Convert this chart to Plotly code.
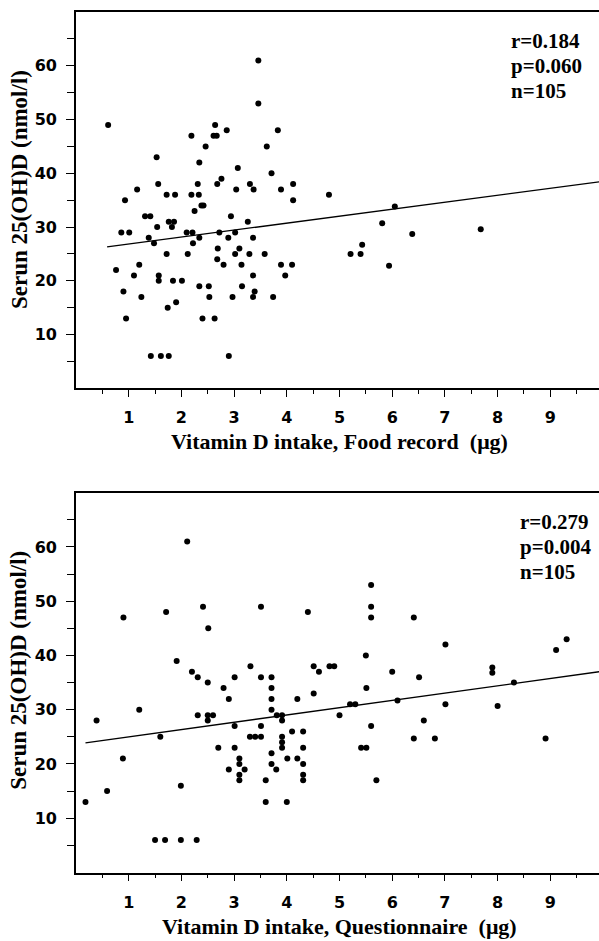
import plotly.graph_objects as go

# ---------------- data ----------------
food_x = [0.61, 3.46, 3.46, 2.64, 2.19, 2.61, 2.67, 2.86, 3.83, 2.46, 3.62, 1.53, 2.34, 3.07, 3.71, 2.76,
          1.56, 2.31, 2.68, 3.30, 4.12,
          1.16, 3.04, 3.37, 3.89,
          1.72, 1.88, 2.19, 2.33, 4.80,
          0.93, 4.12,
          2.38, 2.42, 6.05,
          2.25,
          1.31, 1.41, 2.94,
          1.76, 1.86, 3.26, 5.81,
          1.54, 1.82, 7.68,
          0.86, 1.01, 2.10, 2.21, 2.72, 3.02, 6.38,
          1.38, 2.34, 2.89, 3.36,
          1.48, 2.22, 5.43,
          2.69, 3.10,
          1.72, 2.12, 3.02, 3.29, 3.58, 5.21, 5.40,
          2.68,
          1.20, 2.80, 3.14, 3.89, 4.10, 5.94,
          0.76,
          1.10, 1.57, 3.36, 3.97,
          1.57, 1.84, 2.01,
          2.34, 2.52, 3.15,
          0.90, 3.39,
          1.24, 2.53, 2.97, 3.36, 3.74,
          1.90,
          1.74,
          0.95, 2.40, 2.63,
          1.42, 1.61, 1.76, 2.90]
food_y = [49, 61, 53, 49, 47, 47, 47, 48, 48, 45, 45, 43, 42, 41, 40, 39,
          38, 38, 38, 38, 38,
          37, 37, 37, 37,
          36, 36, 36, 36, 36,
          35, 35,
          34, 34, 33.8,
          33,
          32, 32, 32,
          31, 31, 31, 30.7,
          30, 30, 29.6,
          29, 29, 29, 29, 29, 29, 28.7,
          28, 28, 28, 28,
          27, 27, 26.7,
          26, 26,
          25, 25, 25, 25, 25, 25, 25,
          24,
          23, 23, 23, 23, 23, 22.8,
          22,
          21, 21, 21, 21,
          20, 20, 20,
          19, 19, 19,
          18, 18,
          17, 17, 17, 17, 17,
          16,
          15,
          13, 13, 13,
          6, 6, 6, 6]

quest_x = [2.11, 5.60, 0.90, 1.71, 2.41, 3.51, 4.40, 5.60, 5.60, 6.41, 2.51, 7.01, 9.31, 9.11, 1.91, 5.50,
           3.31, 4.51, 4.81, 4.90, 7.90, 7.90,
           2.20, 4.61, 6.00,
           2.31, 3.01, 3.51, 3.71, 6.51,
           2.50, 8.31,
           2.80, 3.71, 5.51,
           4.51,
           2.90, 4.20, 3.71, 6.10,
           1.20, 3.71,
           5.20, 5.30, 7.01, 8.00,
           0.39,
           2.31, 2.50, 2.60, 2.50, 3.81, 3.91, 3.91, 5.00, 6.60,
           3.01, 3.51, 5.60,
           1.60, 3.30, 3.40, 3.51, 4.10, 4.31, 3.91, 3.91, 6.41, 6.81, 8.91,
           2.70, 3.01, 3.91, 4.31, 5.41, 5.51,
           0.89, 3.10, 4.01, 4.20, 3.71,
           3.10, 3.71, 4.31,
           2.90, 3.20, 3.80,
           3.10, 4.31,
           3.10, 3.60, 4.31, 5.70,
           1.99, 0.59, 0.18, 3.60, 4.00,
           1.50, 1.69, 1.99, 2.29]
quest_y = [61, 53, 47, 48, 49, 49, 48, 49, 47, 47, 45, 42, 43, 41, 39, 40,
           38, 38, 38, 38, 37.8, 36.8,
           37, 37, 37,
           36, 36, 36, 36, 36,
           35, 35,
           34, 34, 34,
           33,
           32, 32, 32, 31.7,
           30, 30,
           31, 31, 31, 30.7,
           28,
           29, 29, 29, 28, 29, 29, 28, 29, 28,
           27, 27, 27,
           25, 25, 25, 25, 26, 26, 25, 24, 24.7, 24.7, 24.7,
           23, 23, 23, 23, 23, 23,
           21, 21, 21, 21, 22,
           20, 20, 20,
           19, 19, 19,
           18, 18,
           17, 17, 17, 17,
           16, 15, 13, 13, 13,
           6, 6, 6, 6]

# regression lines (intercept, slope, start x)
food_fit = (25.54, 1.296, 0.59)
quest_fit = (23.66, 1.344, 0.18)
fit_end_x = 10.0

food_stats = ["r=0.184", "p=0.060", "n=105"]
quest_stats = ["r=0.279", "p=0.004", "n=105"]

x_major = [1, 2, 3, 4, 5, 6, 7, 8, 9]
x_minor = [0.5, 1.5, 2.5, 3.5, 4.5, 5.5, 6.5, 7.5, 8.5, 9.5]
y_major = [10, 20, 30, 40, 50, 60]
y_minor = [5, 15, 25, 35, 45, 55, 65]

y_title = "Serun 25(OH)D (nmol/l)"
x_title_food = "Vitamin D intake, Food record \u00a0(\u03bcg)"
x_title_quest = "Vitamin D intake, Questionnaire \u00a0(\u03bcg)"

# ---------------- layout geometry ----------------
W, H = 599, 941
def px_y(p):
    return 1 - p / H

x_dom = [76 / W, 1.0]
x_rng = [0, (W - 76) / 52.7]
top_dom = [px_y(388.3), px_y(12)]
bot_dom = [px_y(872.5), px_y(492.7)]

fig = go.Figure()

def add_panel(xs, ys, fit, xa, ya):
    fig.add_trace(go.Scatter(x=xs, y=ys, mode="markers",
                             marker=dict(color="black", size=6),
                             xaxis=xa, yaxis=ya, showlegend=False, hoverinfo="skip"))
    b0, b1, xs0 = fit
    lx = [xs0, fit_end_x]
    ly = [b0 + b1 * v for v in lx]
    fig.add_trace(go.Scatter(x=lx, y=ly, mode="lines",
                             line=dict(color="black", width=1.3),
                             xaxis=xa, yaxis=ya, showlegend=False, hoverinfo="skip"))

add_panel(food_x, food_y, food_fit, "x", "y")
add_panel(quest_x, quest_y, quest_fit, "x2", "y2")

tickfont = dict(family="DejaVu Sans", size=16, color="black", weight="bold")

def xaxis(anchor):
    return dict(domain=x_dom, range=x_rng, anchor=anchor,
                showline=True, linecolor="black", linewidth=1.6, mirror=True,
                showgrid=False, zeroline=False,
                tickmode="array", tickvals=x_major, ticktext=[str(v) for v in x_major],
                ticks="outside", ticklen=7, tickwidth=1.2, tickcolor="black",
                ticklabelstandoff=7,
                minor=dict(tickmode="array", tickvals=x_minor, ticks="outside",
                           ticklen=4, tickwidth=1.0, tickcolor="black"),
                tickfont=tickfont, fixedrange=True)

def yaxis(dom, anchor):
    return dict(domain=dom, range=[0, 70], anchor=anchor,
                showline=True, linecolor="black", linewidth=1.6, mirror=False,
                showgrid=False, zeroline=False,
                tickmode="array", tickvals=y_major, ticktext=[str(v) for v in y_major],
                ticks="outside", ticklen=8, tickwidth=1.2, tickcolor="black",
                ticklabelstandoff=6,
                minor=dict(tickmode="array", tickvals=y_minor, ticks="outside",
                           ticklen=7, tickwidth=1.0, tickcolor="black"),
                tickfont=tickfont, fixedrange=True)

serif = "Liberation Serif"
annotations = []

def add_texts(top_px, stats, stats_x, xtitle, xtitle_y):
    annotations.append(dict(text="<b>" + y_title + "</b>", xref="paper", yref="paper",
                            x=19 / W, y=px_y(top_px + 178), xanchor="center", yanchor="middle",
                            textangle=-90, showarrow=False,
                            font=dict(family=serif, size=23, color="black")))
    annotations.append(dict(text="<b>" + xtitle + "</b>", xref="paper", yref="paper",
                            x=339 / W, y=px_y(xtitle_y), xanchor="center", yanchor="middle",
                            showarrow=False, font=dict(family=serif, size=22, color="black")))
    for i, s in enumerate(stats):
        annotations.append(dict(text="<b>" + s + "</b>", xref="paper", yref="paper",
                                x=stats_x / W, y=px_y(top_px + 29 + 25 * i),
                                xanchor="left", yanchor="middle", showarrow=False,
                                font=dict(family=serif, size=21, color="black")))

add_texts(12, food_stats, 509, x_title_food, 441)
add_texts(492.7, quest_stats, 518, x_title_quest, 926)

fig.update_layout(
    width=W, height=H,
    margin=dict(l=0, r=0, t=0, b=0),
    paper_bgcolor="white", plot_bgcolor="white",
    xaxis=xaxis("y"), yaxis=yaxis(top_dom, "x"),
    xaxis2=xaxis("y2"), yaxis2=yaxis(bot_dom, "x2"),
    annotations=annotations,
)

fig.write_html("out.html", config={"displayModeBar": False},
               post_script="document.body.style.margin='0px';")
